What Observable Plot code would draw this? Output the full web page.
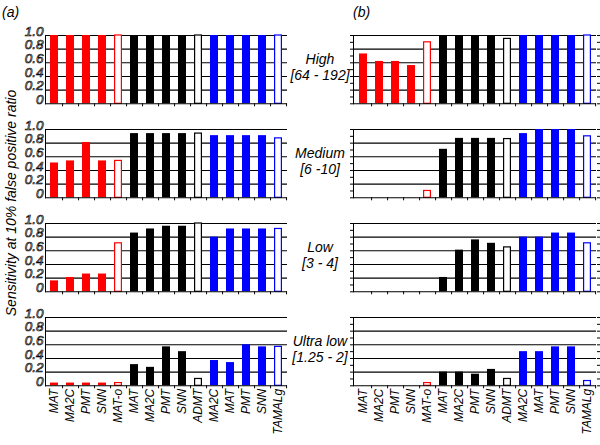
<!DOCTYPE html>
<html><head><meta charset="utf-8">
<script src="https://cdn.jsdelivr.net/npm/d3@7"></script>
<script src="https://cdn.jsdelivr.net/npm/@observablehq/plot@0.6"></script>
<style>
html,body{margin:0;padding:0;background:#fff}
#chart{position:relative;width:600px;height:445px;font-family:"Liberation Sans",Arial,sans-serif;overflow:hidden;background:#fff}
#chart svg{position:absolute;overflow:visible;background:transparent}
.lab{position:absolute;font-style:italic;color:#000;white-space:nowrap;z-index:3;pointer-events:none}
</style>
</head><body>
<div id="chart"></div>
<script>
// ---- data ----
const methods = ["MAT","MA2C","PMT","SNN","MAT-o","MAT","MA2C","PMT","SNN","ADMT","MA2C","MAT","PMT","SNN","TAMALg"];
const groups  = ["set 1","set 1","set 1","set 1","set 1","set 2","set 2","set 2","set 2","set 2","set 3","set 3","set 3","set 3","set 3"];
const openBar = [false,false,false,false,true,false,false,false,false,true,false,false,false,false,true];
const panelLetters = ["(a)","(b)"];
const rowNames  = ["High","Medium","Low","Ultra low"];
const rowRanges = ["[64 - 192]","[6 -10]","[3 - 4]","[1.25 - 2]"];
const yTitle = "Sensitivity at 10% false positive ratio";
const yTicks = [0,0.2,0.4,0.6,0.8,1.0];
const yMinorTicks = [0,0.1,0.2,0.3,0.4,0.5,0.6,0.7,0.8,0.9,1.0];

const aHigh   = [1,1,1,1,1, 1,1,1,1,1, 1,1,1,1,1];
const aMedium = [0.51,0.54,0.81,0.54,0.54, 0.94,0.94,0.94,0.94,0.94, 0.91,0.91,0.91,0.91,0.87];
const aLow    = [0.16,0.21,0.26,0.26,0.71, 0.86,0.92,0.96,0.96,1.0, 0.80,0.92,0.92,0.92,0.92];
const aUltra  = [0.04,0.04,0.04,0.04,0.04, 0.31,0.27,0.57,0.50,0.10, 0.37,0.34,0.60,0.57,0.57];
const bHigh   = [0.73,0.62,0.62,0.56,0.90, 1,1,1,1,0.95, 1,1,1,1,1];
const bMedium = [0,0,0,0,0.10, 0.71,0.87,0.87,0.87,0.86, 0.94,1,1,1,0.90];
const bLow    = [0,0,0,0,0, 0.21,0.61,0.76,0.71,0.65, 0.80,0.80,0.86,0.86,0.71];
const bUltra  = [0,0,0,0,0.04, 0.20,0.20,0.17,0.24,0.10, 0.50,0.50,0.57,0.57,0.07];

const series = [[aHigh,aMedium,aLow,aUltra],[bHigh,bMedium,bLow,bUltra]];

// ---- layout ----
const colLeft = [45,353], colRight = [287,596];
const rowTop = [35,129.3,223.3,316.7], rowH = 68.3;
const chart = document.getElementById("chart");
const FONT = "'Liberation Sans', Arial, sans-serif";

function panel(values, col, row) {
  const isLeft = col === 0, isBottom = row === 3;
  const mL = isLeft ? 45 : 10, mR = 4, mT = 12, mB = isBottom ? 60 : 6;
  const pw = colRight[col] - colLeft[col];
  const half = pw / 15 / 2;
  const data = methods.map((m,i) => ({i, method:m, group:groups[i], open:openBar[i], value:values[i]}))
                      .filter(d => d.value > 0);
  const marks = [
    Plot.ruleY(yTicks.slice(1), {stroke:"#000", strokeWidth:1.1}),
    Plot.barY(data.filter(d => !d.open), {x:"i", y:"value", fill:"group"}),
    Plot.barY(data.filter(d => d.open), {x:"i", y:"value", fill:"white", stroke:"group", strokeWidth:1.2, insetLeft:0.6, insetRight:0.6}),
    Plot.ruleY([0], {stroke:"#000", strokeWidth:1.1}),
    Plot.frame({anchor:"left", stroke:"#000"}),
    Plot.axisX({ticks:d3.range(15), tickSize:3, tickFormat:() => "", dx:half, label:null})
  ];
  if (isLeft) {
    marks.push(Plot.axisY({ticks:yTicks, tickSize:0, tickPadding:2, dy:-4, label:null,
      tickFormat: d => d === 0 ? "0" : d.toFixed(1), fontSize:13.5, fontStyle:"italic"}));
  } else {
    marks.push(Plot.axisY({ticks:yMinorTicks, tickSize:3, tickFormat:() => "", label:null}));
    marks.push(Plot.axisY({anchor:"right", ticks:yMinorTicks, tickSize:3, tickFormat:() => "", label:null}));
  }
  if (isBottom) {
    marks.push(Plot.axisX({ticks:d3.range(15), tickSize:0, tickPadding:3, tickRotate:-90, label:null,
      tickFormat: i => methods[i], fontSize:12, fontStyle:"italic"}));
  }
  const svg = Plot.plot({
    width: mL + pw + mR, height: mT + rowH + mB,
    marginLeft: mL, marginRight: mR, marginTop: mT, marginBottom: mB,
    style: {fontFamily: FONT, background: "transparent", color: "#000"},
    x: {type:"band", domain:d3.range(15), paddingInner:0.5, paddingOuter:0.25, label:null},
    y: {domain:[0,1], label:null},
    color: {domain:["set 1","set 2","set 3"], range:["#ff0000","#000000","#0000ff"]},
    marks
  });
  // outlined (hollow) y tick labels as in the reference
  if (isLeft) {
    svg.querySelectorAll("text").forEach(t => {
      if (/^\d(\.\d)?$/.test(t.textContent)) {
        t.setAttribute("fill", "#fff");
        t.setAttribute("stroke", "#000");
        t.setAttribute("stroke-width", "0.7");
        t.style.fill = "#fff";
        t.style.stroke = "#000";
      }
    });
  }
  svg.style.left = (colLeft[col] - mL) + "px";
  svg.style.top = (rowTop[row] - mT) + "px";
  chart.appendChild(svg);
}

series.forEach((col, c) => col.forEach((vals, r) => panel(vals, c, r)));

function label(text, css) {
  const d = document.createElement("div");
  d.className = "lab";
  d.innerHTML = text;
  Object.assign(d.style, css);
  chart.appendChild(d);
  return d;
}
label(panelLetters[0], {left:"2px", top:"4px", fontSize:"14px"});
label(panelLetters[1], {left:"353px", top:"4px", fontSize:"14px"});
rowNames.forEach((n, r) => {
  const c = rowTop[r] + rowH / 2;
  label(n + "<br>" + rowRanges[r], {left:"320px", top:(c - 18) + "px", fontSize:"14px",
    lineHeight:"16px", textAlign:"center", transform:"translateX(-50%)"});
});
label(yTitle, {left:"11px", top:"203px", fontSize:"14px",
  transform:"translate(-50%,-50%) rotate(-90deg)"});
</script>
</body></html>
